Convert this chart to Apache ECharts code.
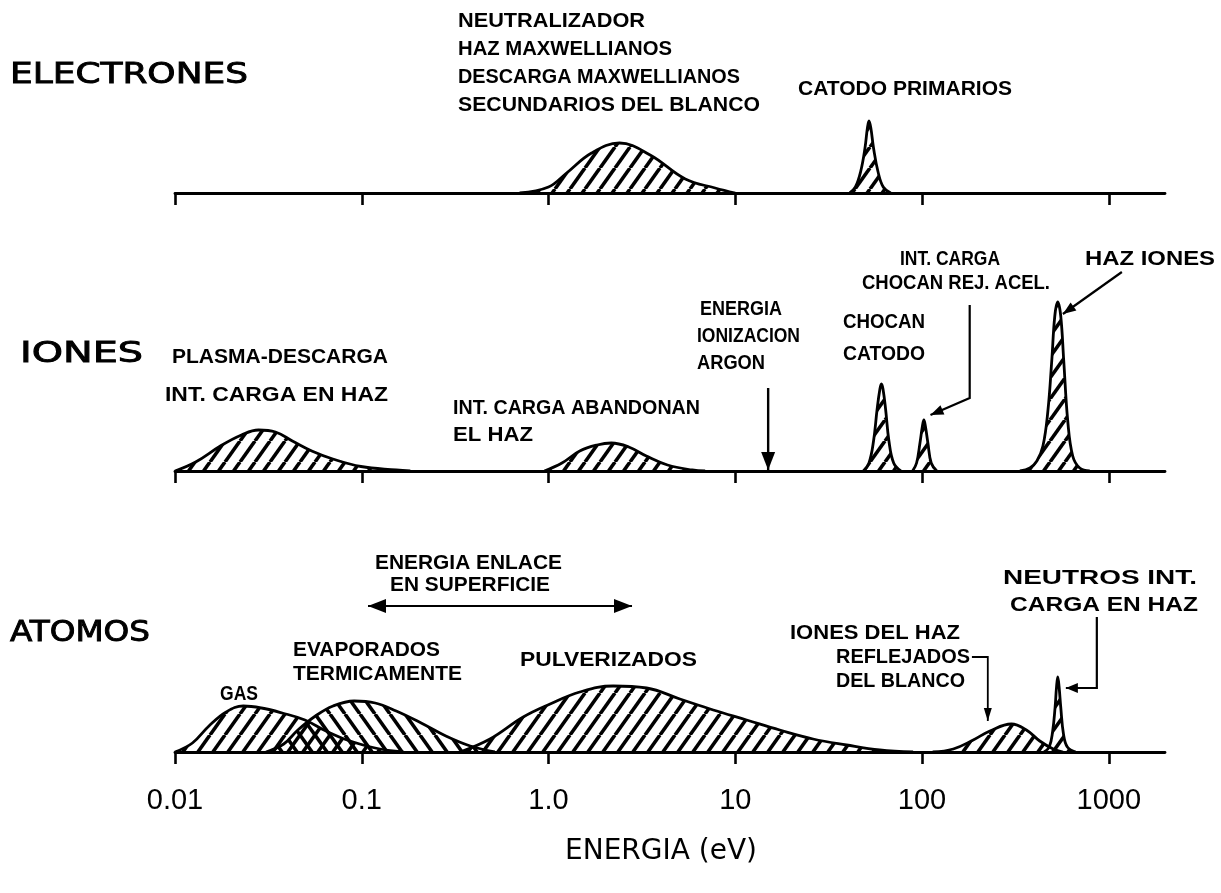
<!DOCTYPE html>
<html><head><meta charset="utf-8">
<script src="https://cdn.jsdelivr.net/npm/echarts@6/dist/echarts.min.js"></script>
<style>html,body{margin:0;padding:0;background:#fff}#c{width:1221px;height:893px}</style>
</head><body><div id="c"></div>
<script>
// ---------- data (energy eV, relative intensity) ----------
const tickValues = [0.01, 0.1, 1, 10, 100, 1000];
const tickLabels = ['0.01', '0.1', '1.0', '10', '100', '1000'];
const rowNames = ['ELECTRONES', 'IONES', 'ATOMOS'];

// Electrones
const elecMaxwell = [[0.70,0],[1.0,6],[1.25,20],[1.7,40],[2.4,50],[3.5,38],[5.4,14],[7.8,5],[10,0]];
const elecCatodo = [[41,0],[44,6],[47,22],[49.5,45],[51,65],[52,72],[53.2,65],[55,45],[58,22],[62,6],[68,0]];
// Iones
const ionPlasma = [[0.01,0],[0.0129,9],[0.0175,25],[0.0227,36],[0.028,41],[0.0345,39],[0.0425,30],[0.054,20],[0.070,12],[0.099,4.5],[0.153,1],[0.182,0]];
const ionAbandonan = [[0.95,0],[1.18,8],[1.47,20],[1.82,26],[2.17,28],[2.69,24],[3.34,15],[4.34,6],[5.88,1],[6.9,0]];
const ionCatodo = [[48.5,0],[52,8],[55,30],[57.5,62],[59.5,82],[60.6,87],[61.8,82],[63.8,62],[66.5,30],[70.5,8],[77,0]];
const ionRejAcel = [[89,0],[93.5,8],[97.5,28],[100.5,45],[102.3,51],[104.2,45],[107.5,28],[112,8],[120,0]];
const ionHaz = [[334,0],[378,3],[412,10],[444,25],[472,60],[495,110],[514,155],[533,169],[553,155],[574,110],[603,50],[641,15],[699,3],[791,0]];
const argonIonization = 15;
// Atomos
const atGas = [[0.01,0],[0.0124,9],[0.0152,26],[0.0188,40],[0.0232,46],[0.029,44],[0.0375,39],[0.0496,32],[0.0643,21],[0.0835,12],[0.118,4],[0.167,0]];
const atEvap = [[0.0307,0],[0.0382,8],[0.0455,22],[0.0565,36],[0.0702,46],[0.091,51],[0.118,49],[0.153,41],[0.208,29],[0.282,16],[0.381,6],[0.516,0]];
const atPulv = [[0.336,0],[0.486,13],[0.732,35],[1.02,48],[1.47,60],[2.22,66],[3.35,64],[5.05,53],[7.62,42],[11.5,32],[17.3,22],[26.1,13],[39.4,7],[59.4,2],[89.6,0]];
const atRefl = [[114,0],[147,3],[188,12],[231,21],[301,28],[362,22],[427,11],[504,3],[569,0]];
const atNeutros = [[450,0],[480,5],[500,20],[516,45],[525,65],[533,75],[542,65],[553,45],[572,18],[600,5],[665,0]];
const enlaceRange = [0.108, 2.8];

// ---------- styling helpers ----------
function hatch(dir) {
  const w = 15, h = 21;
  const c = document.createElement('canvas');
  c.width = w; c.height = h;
  const g = c.getContext('2d');
  g.strokeStyle = '#000'; g.lineWidth = 3.6;
  for (const k of [-1, 0, 1]) {
    g.beginPath();
    if (dir > 0) { g.moveTo(k * w, h); g.lineTo(k * w + w, 0); }
    else { g.moveTo(k * w, 0); g.lineTo(k * w + w, h); }
    g.stroke();
  }
  return c;
}
const patFwd = hatch(1), patBack = hatch(-1);

function peak(name, data, gi, pat) {
  return {
    name, type: 'line', xAxisIndex: gi, yAxisIndex: gi, data,
    smooth: 0.4, symbol: 'none', silent: true,
    lineStyle: { color: '#000', width: 2.8, join: 'round' },
    areaStyle: { color: { image: pat, repeat: 'repeat' }, opacity: 1 },
    z: 3
  };
}

const grids = [
  { left: 175, right: 56, top: 13, height: 180 },
  { left: 175, right: 56, top: 291, height: 180 },
  { left: 175, right: 56, top: 572, height: 180 }
];
const labelFont = '"Liberation Sans Narrow", "Liberation Sans", Arial, sans-serif';
const xAxes = grids.map((g, i) => ({
  type: 'log', logBase: 10, gridIndex: i, min: 0.01, max: 2000,
  axisLine: { show: true, onZero: false, lineStyle: { color: '#000', width: 2.8 } },
  axisTick: { show: true, inside: false, length: 12, customValues: tickValues, lineStyle: { color: '#000', width: 2.6 } },
  minorTick: { show: false },
  splitLine: { show: false },
  axisLabel: {
    show: i === 2, customValues: tickValues, margin: 34, color: '#000',
    fontSize: 29, fontFamily: labelFont,
    formatter: v => { const k = tickValues.findIndex(t => Math.abs(Math.log10(t) - Math.log10(v)) < 1e-6); return k >= 0 ? tickLabels[k] : ''; }
  },
  name: i === 2 ? 'ENERGIA (eV)' : '',
  nameLocation: 'middle', nameGap: 86,
  nameTextStyle: { fontSize: 28, fontFamily: '"DejaVu Sans", sans-serif', color: '#000', padding: [0, 18, 0, 0] }
}));
const yAxes = grids.map((g, i) => ({ type: 'value', gridIndex: i, min: 0, max: 180, show: false }));

const series = [
  peak('Maxwellianos', elecMaxwell, 0, patFwd),
  peak('Catodo primarios', elecCatodo, 0, patFwd),
  peak('Plasma-descarga', ionPlasma, 1, patFwd),
  peak('Int. carga abandonan', ionAbandonan, 1, patFwd),
  peak('Chocan catodo', ionCatodo, 1, patFwd),
  peak('Chocan rej. acel.', ionRejAcel, 1, patFwd),
  peak('Haz iones', ionHaz, 1, patFwd),
  peak('Gas', atGas, 2, patFwd),
  peak('Evaporados', atEvap, 2, patBack),
  peak('Pulverizados', atPulv, 2, patFwd),
  peak('Reflejados', atRefl, 2, patFwd),
  peak('Neutros', atNeutros, 2, patFwd)
];

const chart = echarts.init(document.getElementById('c'), null, { renderer: 'canvas' });
chart.setOption({
  animation: false, backgroundColor: '#fff',
  grid: grids, xAxis: xAxes, yAxis: yAxes, series
});

// ---------- annotations ----------
const meas = document.createElement('canvas').getContext('2d');
const annFont = '"Liberation Sans", Arial, sans-serif';
function fitText(t, x, y, w, size, weight, fam, strokeW) {
  fam = fam || annFont; weight = weight || 'bold';
  meas.font = weight + ' ' + size + 'px ' + fam;
  const m = meas.measureText(t).width;
  const style = { text: t, fontSize: size, fontWeight: weight, fontFamily: fam, fill: '#000', align: 'left', verticalAlign: 'middle' };
  if (strokeW) { style.stroke = '#000'; style.lineWidth = strokeW; }
  return { type: 'text', x, y, scaleX: w / m, silent: true, z: 10, style };
}
const bigFont = '"DejaVu Sans", sans-serif';
const S = 20;
const texts = [
  // [text, left, centerY, width, size, weight, family, stroke]
  [rowNames[0], 10, 75, 238, 29, 'normal', bigFont, 0.9],
  [rowNames[1], 20, 354, 123, 29, 'normal', bigFont, 0.9],
  [rowNames[2], 10, 633, 140, 29, 'normal', bigFont, 0.9],
  ['NEUTRALIZADOR', 458, 21, 187, S],
  ['HAZ MAXWELLIANOS', 458, 49, 214, S],
  ['DESCARGA MAXWELLIANOS', 458, 77, 282, S],
  ['SECUNDARIOS DEL BLANCO', 458, 105, 302, S],
  ['CATODO PRIMARIOS', 798, 89, 214, S],
  ['PLASMA-DESCARGA', 172, 357, 216, S],
  ['INT. CARGA EN HAZ', 165, 395, 223, S],
  ['INT. CARGA ABANDONAN', 453, 408, 247, S],
  ['EL HAZ', 453, 435, 80, S],
  ['ENERGIA', 700, 309, 82, S],
  ['IONIZACION', 697, 336, 103, S],
  ['ARGON', 697, 363, 68, S],
  ['CHOCAN', 843, 322, 82, S],
  ['CATODO', 843, 354, 82, S],
  ['INT. CARGA', 900, 259, 100, S],
  ['CHOCAN REJ. ACEL.', 862, 283, 188, S],
  ['HAZ IONES', 1085, 259, 130, S],
  ['ENERGIA ENLACE', 375, 563, 187, S],
  ['EN SUPERFICIE', 390, 585, 160, S],
  ['GAS', 220, 694, 38, S],
  ['EVAPORADOS', 293, 650, 147, S],
  ['TERMICAMENTE', 293, 674, 169, S],
  ['PULVERIZADOS', 520, 660, 177, S],
  ['IONES DEL HAZ', 790, 633, 170, S],
  ['REFLEJADOS', 836, 657, 134, S],
  ['DEL BLANCO', 836, 681, 129, S],
  ['NEUTROS INT.', 1003, 578, 194, S],
  ['CARGA EN HAZ', 1010, 605, 188, S]
];

function P(gi, e, h) { return chart.convertToPixel({ gridIndex: gi }, [e, h]); }
function line(points, w) { return { type: 'polyline', silent: true, z: 10, shape: { points }, style: { stroke: '#000', lineWidth: w || 2.2, fill: null } }; }
function head(tip, from, len, half) {
  len = len || 16; half = half || 6;
  const dx = tip[0] - from[0], dy = tip[1] - from[1], d = Math.hypot(dx, dy);
  const ux = dx / d, uy = dy / d, bx = tip[0] - ux * len, by = tip[1] - uy * len;
  return { type: 'polygon', silent: true, z: 10, shape: { points: [tip, [bx - uy * half, by + ux * half], [bx + uy * half, by - ux * half]] }, style: { fill: '#000' } };
}
const g = texts.map(t => fitText(...t));
// Argon ionization arrow
{ const a = P(1, argonIonization, 83), b = P(1, argonIonization, 1);
  g.push(line([a, b], 2.4), head(b, a, 18, 7)); }
// Chocan rej. acel. leader
{ const a = P(1, 180, 166), b = P(1, 180, 73), c = P(1, 111, 56);
  g.push(line([a, b, c]), head(c, b, 13, 5)); }
// Haz iones leader
{ const a = P(1, 1175, 199), b = P(1, 568, 157);
  g.push(line([a, b]), head(b, a, 13, 5)); }
// Energia enlace double arrow
{ const a = P(2, enlaceRange[0], 146), b = P(2, enlaceRange[1], 146);
  g.push(line([a, b], 2.2), head(a, b, 18, 7), head(b, a, 18, 7)); }
// Reflejados leader
{ const a = P(2, 185, 95), b = P(2, 225, 95), c = P(2, 225, 31);
  g.push(line([a, b, c], 1.8), head(c, b, 13, 4)); }
// Neutros leader
{ const a = P(2, 863, 135), b = P(2, 863, 64), c = P(2, 589, 64);
  g.push(line([a, b, c], 2.2), head(c, b, 12, 5)); }

chart.setOption({ graphic: { elements: g } });
</script>
</body></html>
